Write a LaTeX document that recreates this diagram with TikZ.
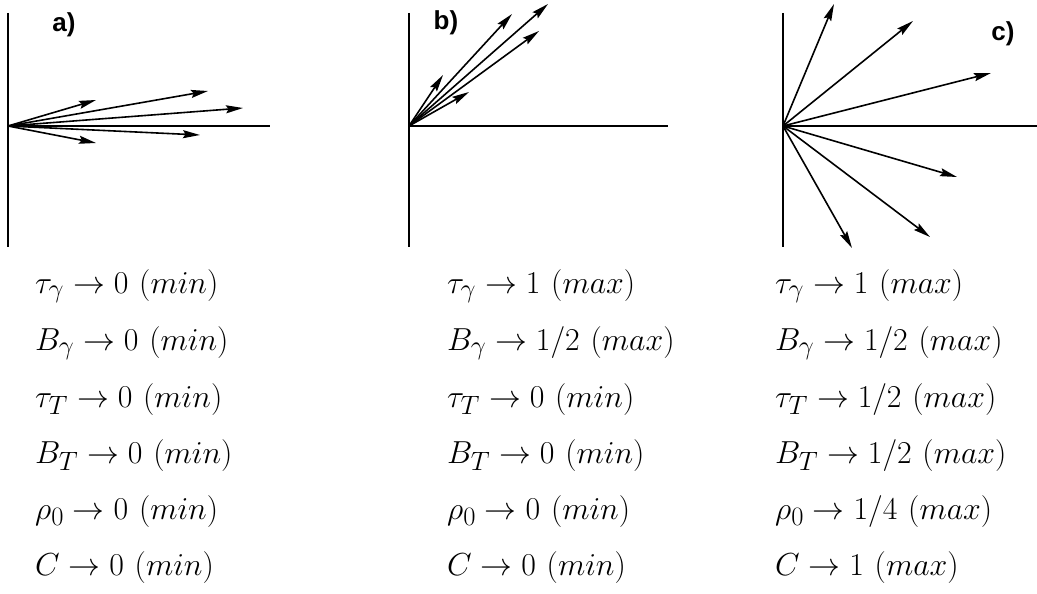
\documentclass[tikz,border=0pt]{standalone}
\usepackage{fontspec}
\usetikzlibrary{arrows.meta,positioning}
\newfontfamily\tagfont{Liberation Sans}
\definecolor{vcInk}{HTML}{000000}
\newcommand{\vccondtext}[1]{\scalebox{1.28}{$#1$}}
\tikzset{
  vcaxis/.style={draw=vcInk, line width=1.8pt},
  vcvec/.style={-{Stealth[length=17pt,width=8pt,inset=2.5pt]}, draw=vcInk, line width=1.6pt},
  vctag/.style={font=\tagfont\bfseries\fontsize{26}{30}\selectfont, text=vcInk, inner sep=0pt},
  vccond/.style={font=\fontsize{28}{34}\selectfont, text=vcInk, inner sep=0pt, anchor=base west}
}
\begin{document}
\begin{tikzpicture}[x=1pt, y=-1pt]
\useasboundingbox (0,0) rectangle (1037,594);

% Panel a
\coordinate (oa) at (8,126);
\coordinate (atop) at (8,13);   \coordinate (abot) at (8,247);
\coordinate (aend) at (270,126);
\draw[vcaxis] (atop) -- (abot);
\draw[vcaxis] (oa) -- (aend);
\coordinate (a1) at (96,100);
\coordinate (a2) at (208,91);
\coordinate (a3) at (243,108);
\coordinate (a4) at (200,135);
\coordinate (a5) at (96,143);
\draw[vcvec] (oa) -- (a1);  \draw[vcvec] (oa) -- (a2);  \draw[vcvec] (oa) -- (a3);
\draw[vcvec] (oa) -- (a4);  \draw[vcvec] (oa) -- (a5);
\node[vctag] (taga) at (64,25) {a)};

% Panel b
\coordinate (ob) at (409,126);
\coordinate (btop) at (409,13); \coordinate (bbot) at (409,247);
\coordinate (bend) at (668,126);
\draw[vcaxis] (btop) -- (bbot);
\draw[vcaxis] (ob) -- (bend);
\coordinate (b1) at (443,75);
\coordinate (b2) at (512,14);
\coordinate (b3) at (548,4);
\coordinate (b4) at (539,31);
\coordinate (b5) at (469,92);
\draw[vcvec] (ob) -- (b1);  \draw[vcvec] (ob) -- (b2);  \draw[vcvec] (ob) -- (b3);
\draw[vcvec] (ob) -- (b4);  \draw[vcvec] (ob) -- (b5);
\node[vctag] (tagb) at (446,23) {b)};

% Panel c
\coordinate (oc) at (783,126);
\coordinate (ctop) at (783,13); \coordinate (cbot) at (783,247);
\coordinate (cend) at (1037,126);
\draw[vcaxis] (ctop) -- (cbot);
\draw[vcaxis] (oc) -- (cend);
\coordinate (c1) at (834,4);
\coordinate (c2) at (913,21);
\coordinate (c3) at (991,73);
\coordinate (c4) at (957,177);
\coordinate (c5) at (930,237);
\coordinate (c6) at (852,248);
\draw[vcvec] (oc) -- (c1);  \draw[vcvec] (oc) -- (c2);  \draw[vcvec] (oc) -- (c3);
\draw[vcvec] (oc) -- (c4);  \draw[vcvec] (oc) -- (c5);  \draw[vcvec] (oc) -- (c6);
\node[vctag] (tagc) at (1003,34) {c)};

% Conditions a
\node[vccond] (ta1) at (35,293) {\vccondtext{\tau_\gamma \to 0\ (min)}};
\node[vccond] (ta2) at (35,350) {\vccondtext{B_\gamma \to 0\ (min)}};
\node[vccond] (ta3) at (35,407) {\vccondtext{\tau_T \to 0\ (min)}};
\node[vccond] (ta4) at (35,463) {\vccondtext{B_T \to 0\ (min)}};
\node[vccond] (ta5) at (35,519) {\vccondtext{\rho_0 \to 0\ (min)}};
\node[vccond] (ta6) at (35,575) {\vccondtext{C \to 0\ (min)}};

% Conditions b
\node[vccond] (tb1) at (447,293) {\vccondtext{\tau_\gamma \to 1\ (max)}};
\node[vccond] (tb2) at (447,350) {\vccondtext{B_\gamma \to 1/2\ (max)}};
\node[vccond] (tb3) at (447,407) {\vccondtext{\tau_T \to 0\ (min)}};
\node[vccond] (tb4) at (447,463) {\vccondtext{B_T \to 0\ (min)}};
\node[vccond] (tb5) at (447,519) {\vccondtext{\rho_0 \to 0\ (min)}};
\node[vccond] (tb6) at (447,575) {\vccondtext{C \to 0\ (min)}};

% Conditions c
\node[vccond] (tc1) at (775,293) {\vccondtext{\tau_\gamma \to 1\ (max)}};
\node[vccond] (tc2) at (775,350) {\vccondtext{B_\gamma \to 1/2\ (max)}};
\node[vccond] (tc3) at (775,407) {\vccondtext{\tau_T \to 1/2\ (max)}};
\node[vccond] (tc4) at (775,463) {\vccondtext{B_T \to 1/2\ (max)}};
\node[vccond] (tc5) at (775,519) {\vccondtext{\rho_0 \to 1/4\ (max)}};
\node[vccond] (tc6) at (775,575) {\vccondtext{C \to 1\ (max)}};

\end{tikzpicture}
\end{document}
